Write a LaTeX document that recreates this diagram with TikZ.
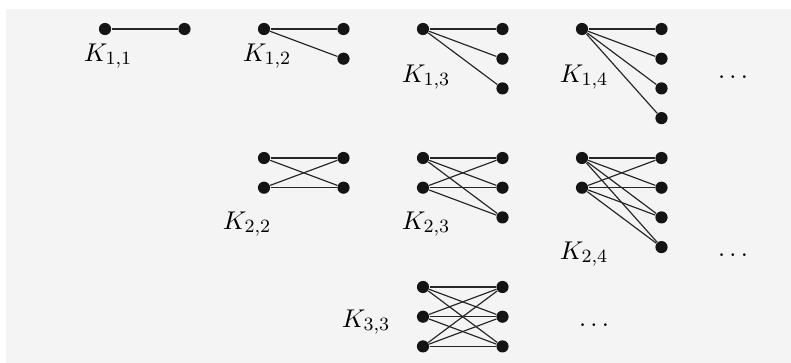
\documentclass[tikz,border=0pt]{standalone}
\usepackage{tikz}
\usetikzlibrary{positioning}
\definecolor{panelgray}{HTML}{F4F4F4}
\tikzset{
	vertex/.style={circle, fill=black!92, inner sep=0pt, minimum size=5.2pt}
}
\tikzset{
	edge/.style={line width=0.5pt, black!85}
}
\tikzset{
	namelabel/.style={font=\fontsize{11}{13}\selectfont}
}

\begin{document}
\begin{tikzpicture}[x=0.015cm, y=-0.015cm]
  \useasboundingbox (0,0) rectangle (791,363);
  \fill[panelgray] (6,9) rectangle (791,363);
  % K_{m,n}: m left vertices, n right vertices
  \foreach \m/\n/\x/\y in {1/1/105/29, 1/2/264/29, 1/3/423/29, 1/4/582/29,
                           2/2/264/158, 2/3/423/158, 2/4/582/158, 3/3/423/287} {
    \foreach \i in {1,...,\m}
      \node[vertex] (k\m\n-a\i) at (\x,{\y+29.7*(\i-1)}) {};
    \foreach \j in {1,...,\n}
      \node[vertex] (k\m\n-b\j) at ({\x+79.5},{\y+29.7*(\j-1)}) {};
    \foreach \i in {1,...,\m}
      \foreach \j in {1,...,\n}
        \draw[edge] (k\m\n-a\i) -- (k\m\n-b\j);
  }
  \node[namelabel] (lab11) at (108,56) {$K_{1,1}$};
  \node[namelabel] (lab12) at (267,56) {$K_{1,2}$};
  \node[namelabel] (lab13) at (426,77) {$K_{1,3}$};
  \node[namelabel] (lab14) at (584,77) {$K_{1,4}$};
  \node[namelabel] (lab22) at (247,224) {$K_{2,2}$};
  \node[namelabel] (lab23) at (426,224) {$K_{2,3}$};
  \node[namelabel] (lab24) at (584,254) {$K_{2,4}$};
  \node[namelabel] (lab33) at (366,322) {$K_{3,3}$};
  \node[namelabel] (more1) at (733,77) {$\ldots$};
  \node[namelabel] (more2) at (733,255) {$\ldots$};
  \node[namelabel] (more3) at (594,325) {$\ldots$};
\end{tikzpicture}
\end{document}
